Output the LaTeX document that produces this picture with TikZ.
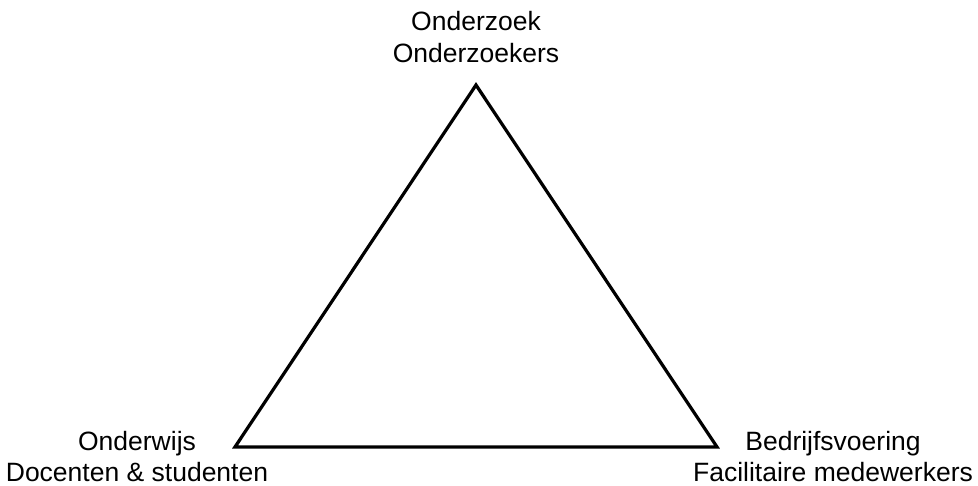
\documentclass[tikz,border=0pt]{standalone}
\usepackage{fontspec}
\setmainfont{Liberation Sans}
\begin{document}
\begin{tikzpicture}[x=1pt,y=-1pt,
  lbl/.style={align=center,font=\fontsize{26.5}{32}\selectfont,inner sep=0pt},
  tri/.style={line width=3.2pt,line join=miter}]
\useasboundingbox (0,0) rectangle (978,486);
\coordinate (top) at (476,85);
\coordinate (bl) at (235,447);
\coordinate (br) at (717,447);
\draw[tri] (top) -- (bl) -- (br) -- cycle;
\node[lbl,anchor=base] (tA) at (476,63) {Onderzoek\\Onderzoekers};
\node[lbl,anchor=base] (lA) at (137,482) {Onderwijs\\Docenten \& studenten};
\node[lbl,anchor=base] (rA) at (833,482) {Bedrijfsvoering\\Facilitaire medewerkers};
\end{tikzpicture}
\end{document}
